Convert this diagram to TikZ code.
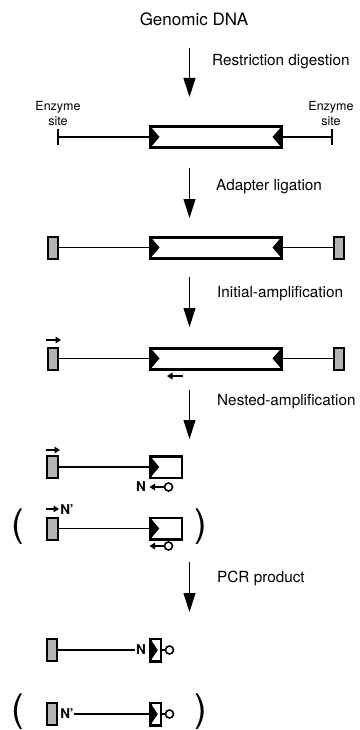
\documentclass[tikz,border=0pt]{standalone}
\usepackage{fontspec}
\setmainfont{TeX Gyre Heros}
\usetikzlibrary{arrows.meta,calc}
\definecolor{adgray}{HTML}{B4B4B4}
\newcommand\adlwedge[2]{\fill (#1.north west) -- ($(#1.west)+(#2,0)$) -- (#1.south west) -- cycle;}
\newcommand\adrwedge[2]{\fill (#1.north east) -- ($(#1.east)+(-#2,0)$) -- (#1.south east) -- cycle;}
\begin{document}
\begin{tikzpicture}[x=1pt,y=-1pt,
  steparrow/.style={line width=1.1pt,-{Triangle[length=19pt,width=12pt]}},
  steplabel/.style={anchor=west,inner sep=0,font=\fontsize{15.3}{18}\selectfont},
  dnaline/.style={line width=1.8pt},
  bigbox/.style={draw,line width=3pt,outer sep=0,inner sep=0,minimum width=131pt,minimum height=21pt},
  midbox/.style={draw,line width=2.5pt,outer sep=0,inner sep=0,minimum width=31.5pt,minimum height=21.5pt},
  tinybox/.style={draw,line width=2.5pt,outer sep=0,inner sep=0,minimum width=10.5pt,minimum height=22.5pt},
  adapter/.style={draw,line width=2pt,fill=adgray,outer sep=0,inner sep=0,minimum width=10.5pt,minimum height=22pt},
  primer/.style={line width=1.7pt,-{Triangle[length=5.5pt,width=6.5pt]}},
  tag/.style={circle,draw,line width=1.6pt,inner sep=0,minimum size=8pt,outer sep=0},
  nlabel/.style={inner sep=0,font=\fontsize{13.5}{15}\selectfont\bfseries},
  paren/.style={inner sep=0,font=\fontsize{38}{40}\selectfont},
  sitelabel/.style={align=center,inner sep=0,font=\fontsize{12.5}{15}\selectfont}
]
\useasboundingbox (0,0) rectangle (359,730);

% title
\node[inner sep=0,font=\fontsize{17}{20}\selectfont] (title) at (194,19) {Genomic DNA};

% step 1
\coordinate (s1a) at (189.5,48); \coordinate (s1b) at (189.5,97);
\draw[steparrow] (s1a) -- (s1b);
\node[steplabel] (l1) at (212,62) {Restriction digestion};

% row 1
\node[bigbox] (b1) at (216,137) {};
\adlwedge{b1}{9}\adrwedge{b1}{9}
\coordinate (e1l) at (58,137); \coordinate (e1r) at (332,137);
\draw[dnaline] (e1l) -- (b1.west);
\draw[dnaline] (b1.east) -- (e1r);
\draw[dnaline] ($(e1l)+(0,-8)$) -- ($(e1l)+(0,8)$);
\draw[dnaline] ($(e1r)+(0,-8)$) -- ($(e1r)+(0,8)$);
\node[sitelabel] (z1) at (58,114) {Enzyme\\site};
\node[sitelabel] (z2) at (331,114) {Enzyme\\site};

% step 2
\coordinate (s2a) at (189.5,168); \coordinate (s2b) at (189.5,218);
\draw[steparrow] (s2a) -- (s2b);
\node[steplabel] (l2) at (216,187) {Adapter ligation};

% row 2
\node[bigbox] (b2) at (216,247.5) {};
\adlwedge{b2}{9}\adrwedge{b2}{9}
\node[adapter] (a2l) at (53,247.5) {};
\node[adapter] (a2r) at (339,247.5) {};
\draw[dnaline] (a2l) -- (b2.west);
\draw[dnaline] (b2.east) -- (a2r);

% step 3
\coordinate (s3a) at (189.5,277); \coordinate (s3b) at (189.5,327);
\draw[steparrow] (s3a) -- (s3b);
\node[steplabel] (l3) at (217,294) {Initial-amplification};

% row 3
\node[bigbox] (b3) at (216,358.5) {};
\adlwedge{b3}{9}\adrwedge{b3}{9}
\node[adapter] (a3l) at (53,358.5) {};
\node[adapter] (a3r) at (339,358.5) {};
\draw[dnaline] (a3l) -- (b3.west);
\draw[dnaline] (b3.east) -- (a3r);
\coordinate (p3s) at (46,340); \coordinate (p3e) at (61,340);
\draw[primer] (p3s) -- (p3e);
\coordinate (q3s) at (183,376); \coordinate (q3e) at (167,376);
\draw[primer] (q3s) -- (q3e);

% step 4
\coordinate (s4a) at (189.5,390); \coordinate (s4b) at (189.5,439);
\draw[steparrow] (s4a) -- (s4b);
\node[steplabel] (l4) at (217,402) {Nested-amplification};

% row 4
\node[adapter] (a4) at (52.5,467) {};
\node[midbox] (m4) at (166,467) {};
\adlwedge{m4}{9}
\draw[dnaline] (a4) -- (m4.west);
\coordinate (p4s) at (46,450); \coordinate (p4e) at (60,450);
\draw[primer] (p4s) -- (p4e);
\node[nlabel] (n4) at (141,487) {N};
\node[tag] (t4) at (168.5,487) {};
\coordinate (q4e) at (149.5,487);
\draw[primer] (t4.west) -- (q4e);

% row 5
\node[paren] (o5) at (17.5,527) {(};
\node[paren] (c5) at (201,527) {)};
\node[adapter] (a5) at (52.5,528.5) {};
\node[midbox] (m5) at (166,528.5) {};
\adlwedge{m5}{9}
\draw[dnaline] (a5) -- (m5.west);
\coordinate (p5s) at (46,509); \coordinate (p5e) at (59,509);
\draw[primer] (p5s) -- (p5e);
\node[nlabel] (n5) at (67,510) {N'};
\node[tag] (t5) at (168.5,546) {};
\coordinate (q5e) at (149.5,546);
\draw[primer] (t5.west) -- (q5e);

% step 5
\coordinate (s5a) at (189.5,562); \coordinate (s5b) at (189.5,612);
\draw[steparrow] (s5a) -- (s5b);
\node[steplabel] (l5) at (217,578) {PCR product};

% row 6
\node[adapter] (a6) at (52,650) {};
\node[nlabel,inner sep=0.5pt] (n6) at (141,650) {N};
\node[tinybox] (s6) at (155.5,650) {};
\adlwedge{s6}{7.5}
\node[tag] (t6) at (169.5,650) {};
\draw[dnaline] (a6) -- (n6.west);
\draw[dnaline] (s6.east) -- (t6.west);

% row 7
\node[paren] (o7) at (17.5,712) {(};
\node[paren] (c7) at (201,712) {)};
\node[adapter] (a7) at (52,714) {};
\node[nlabel,inner sep=0.5pt] (n7) at (67,714) {N'};
\node[tinybox] (s7) at (155.5,714) {};
\adlwedge{s7}{7.5}
\node[tag] (t7) at (169.5,714) {};
\draw[dnaline] (n7.east) -- (s7.west);
\draw[dnaline] (s7.east) -- (t7.west);
\end{tikzpicture}
\end{document}
